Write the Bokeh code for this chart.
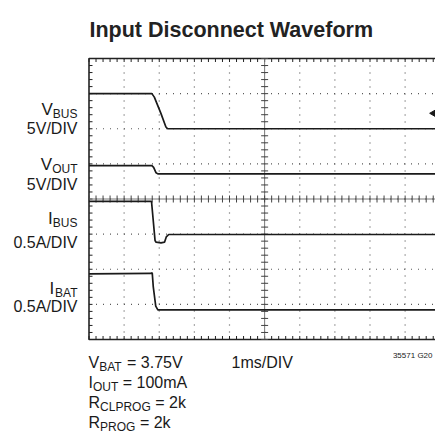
import numpy as np
from bokeh.plotting import figure
from bokeh.models import Label, Range1d
from bokeh.embed import file_html
from bokeh.resources import INLINE

# ---------------- data (time in ms, amplitude in scope divisions) ----------------
t_vbus = [0.0, 1.79, 1.86, 2.05, 2.19, 2.24, 9.9]
y_vbus = [7.0, 7.0, 6.9, 6.43, 6.05, 6.0, 6.0]

t_vout = [0.0, 1.79, 1.84, 1.91, 1.96, 9.9]
y_vout = [4.95, 4.95, 4.9, 4.745, 4.715, 4.715]

t_ibus = [0.0, 1.78, 1.88, 1.91, 2.05, 2.15, 2.2, 2.27, 9.9]
y_ibus = [3.93, 3.93, 2.82, 2.77, 2.75, 2.77, 2.92, 2.99, 2.99]

t_ibat = [0.0, 1.76, 1.80, 1.83, 1.90, 1.96, 9.9]
y_ibat = [1.87, 1.88, 1.9, 1.5, 0.95, 0.845, 0.845]

ref_marker_t = [9.83]
ref_marker_y = [6.44]

channel_names = [("V", "BUS"), ("V", "OUT"), ("I", "BUS"), ("I", "BAT")]
channel_scales = ["5V/DIV", "5V/DIV", "0.5A/DIV", "0.5A/DIV"]
conditions = [("V", "BAT", "= 3.75V"), ("I", "OUT", "= 100mA"),
              ("R", "CLPROG", "= 2k"), ("R", "PROG", "= 2k")]
timebase = "1ms/DIV"
title_text = "Input Disconnect Waveform"
code_text = "35571 G20"

n_xdiv, n_ydiv = 10, 8

# ---------------- layout ----------------
W, H = 435, 437
DIV = 35.125                      # pixels per division
BL, BT = 88.5, 58                 # pixel offsets of the scope screen inside the canvas
BB = H - BT - n_ydiv * DIV
FX0 = BL                          # canvas x of screen left
FY0 = BT + n_ydiv * DIV           # canvas y of screen bottom


def dx(X):
    return (X - FX0) / DIV


def dy(Y):
    return (FY0 - Y) / DIV


p = figure(width=W, height=H, output_backend="svg", toolbar_location=None,
           x_range=Range1d(-BL / DIV, (W - BL) / DIV),
           y_range=Range1d(-BB / DIV, n_ydiv + BT / DIV),
           x_axis_location=None, y_axis_location=None,
           min_border=0)
p.outline_line_color = None
p.grid.visible = False
p.background_fill_color = "white"
p.border_fill_color = "white"

FONT = "Liberation Sans"
INK = "#222222"
GRID = "#5a5a5a"

# dotted graticule at every division
p.multi_line([[k, k] for k in range(1, n_xdiv)], [[0, n_ydiv]] * (n_xdiv - 1),
             line_color=GRID, line_dash="1 6", line_width=1.2)
p.multi_line([[0, n_xdiv]] * (n_ydiv - 1), [[k, k] for k in range(1, n_ydiv)],
             line_color=GRID, line_dash="1 6", line_width=1.2)

sub_x = np.round(np.arange(0, n_xdiv + 0.001, 0.2), 2)
sub_y = np.round(np.arange(0, n_ydiv + 0.001, 0.2), 2)
tk = 3.5 / DIV

# screen border (left, top, bottom) with inward ticks
p.line([n_xdiv, 0, 0, n_xdiv], [n_ydiv, n_ydiv, 0, 0], line_color=INK, line_width=1.6)
p.segment(x0=[0] * len(sub_y), y0=sub_y, x1=[tk] * len(sub_y), y1=sub_y,
          line_color=INK, line_width=1)
p.segment(x0=sub_x, y0=[0] * len(sub_x), x1=sub_x, y1=[tk] * len(sub_x),
          line_color=INK, line_width=1)
p.segment(x0=sub_x, y0=[n_ydiv] * len(sub_x), x1=sub_x, y1=[n_ydiv - tk] * len(sub_x),
          line_color=INK, line_width=1)

# centre cross lines with sub-division ticks
p.line([n_xdiv / 2, n_xdiv / 2], [0, n_ydiv], line_color="#777777", line_width=1)
p.line([0, n_xdiv], [n_ydiv / 2, n_ydiv / 2], line_color="#777777", line_width=1)
p.scatter([n_xdiv / 2] * len(sub_y), sub_y, marker="dash", size=7,
          line_color="#444444", line_width=1)
p.scatter(sub_x, [n_ydiv / 2] * len(sub_x), marker="dash", angle=np.pi / 2,
          size=7, line_color="#444444", line_width=1)

# traces
for t, y in ((t_vbus, y_vbus), (t_vout, y_vout), (t_ibus, y_ibus), (t_ibat, y_ibat)):
    p.line(t, y, line_color="#1a1a1a", line_width=1.7)

p.scatter(ref_marker_t, ref_marker_y, marker="triangle", angle=np.pi / 2,
          size=8, fill_color="#1a1a1a", line_color="#1a1a1a")


# ---------------- texts ----------------
def lab(X, Y, text, size, align="left", bold=False, font=FONT, color="#1a1a1a"):
    p.add_layout(Label(x=dx(X), y=dy(Y), text=text, text_font=font,
                       text_font_size=f"{size}px", text_align=align,
                       text_baseline="alphabetic", text_color=color,
                       text_font_style="bold" if bold else "normal"))


# title
lab(89, 29, title_text, 21.5, bold=True, color="#222222")

# channel labels (right aligned)
SUB = 12
sub_w = {"BUS": 24.7, "OUT": 25.3, "BAT": 23.3, "CLPROG": 50.7, "PROG": 35.3}
name_base = [109, 164, 218, 288]
scale_base = [128, 184, 242, 306]
RX = 77
for (main, sub), sc, nb, sb in zip(channel_names, channel_scales, name_base, scale_base):
    lab(RX, nb + 4, sub, SUB, align="right")
    lab(RX - sub_w[sub], nb, main, 17, align="right")
    lab(RX, sb, sc, 16, align="right")

# test conditions (left aligned)
main_w = {"V": 10.7, "I": 4.4, "R": 11.6}
cond_base = [362, 382, 402, 422]
LX = 88
SPACE = 4.5
for (m, s, rest), b in zip(conditions, cond_base):
    lab(LX, b, m, 16)
    lab(LX + main_w[m], b + 4, s, SUB)
    lab(LX + main_w[m] + sub_w[s] + SPACE, b, rest, 16)

lab(231, 362, timebase, 16)
lab(432, 355, code_text, 8, align="right")

open("out.html", "w").write(file_html(p, INLINE))
